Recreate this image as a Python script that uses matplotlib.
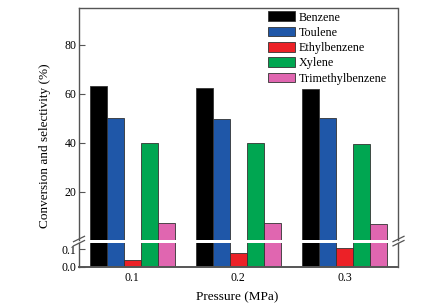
import matplotlib
matplotlib.use("Agg")
import matplotlib.pyplot as plt
from matplotlib.lines import Line2D
import numpy as np

plt.rcParams['font.family'] = ['Liberation Serif', 'DejaVu Serif']

pressures = ['0.1', '0.2', '0.3']
series_names = ['Benzene', 'Toulene', 'Ethylbenzene', 'Xylene', 'Trimethylbenzene']
benzene = [63.1, 62.3, 62.0]
toulene = [50.3, 49.8, 50.2]
ethylbenzene = [0.038, 0.076, 0.104]
xylene = [40.1, 40.0, 39.6]
trimethylbenzene = [7.35, 7.3, 6.9]
series = [benzene, toulene, ethylbenzene, xylene, trimethylbenzene]
colors = ['#000000', '#1f57a8', '#ec2127', '#00a651', '#e066b0']

W, H = 433, 308
fig = plt.figure(figsize=(W / 100, H / 100), dpi=100)

def fx(px):
    return px / W

def fy(py):
    return 1 - py / H

left, right = 79, 397.5
top_t, top_b = 7.5, 239.5
low_t, low_b = 242.7, 266.7

ax_top = fig.add_axes([fx(left), fy(top_b), fx(right) - fx(left), fy(top_t) - fy(top_b)])
ax_low = fig.add_axes([fx(left), fy(low_b), fx(right) - fx(left), fy(low_t) - fy(low_b)])

x = np.arange(len(pressures))
w = 0.16
spine_col = '#555555'
for ax in (ax_top, ax_low):
    for i, (name, vals) in enumerate(zip(series_names, series)):
        ax.bar(x + (i - 2) * w, vals, width=w, color=colors[i], edgecolor='#333333',
               linewidth=0.6, label=name)
    ax.set_xlim(-0.5, 2.5)
    for s in ax.spines.values():
        s.set_color(spine_col)
        s.set_linewidth(1.0)
    ax.tick_params(axis='y', direction='in', length=4, width=0.8, color=spine_col,
                   labelsize=8.5, pad=2)
    ax.tick_params(axis='x', length=0, labelsize=8.5, pad=4)

ax_top.set_ylim(0.6, 95.3)
ax_top.set_yticks([20, 40, 60, 80])
ax_top.set_xticks([])
ax_top.spines['bottom'].set_visible(False)

ax_low.set_ylim(0, 0.136)
ax_low.set_yticks([0.0, 0.1])
ax_low.set_yticklabels(['0.0', '0.1'])
ax_low.set_xticks(x)
ax_low.set_xticklabels(pressures)
ax_low.spines['top'].set_visible(False)
ax_low.spines['bottom'].set_linewidth(1.4)

ax_top.legend(loc='upper right', frameon=False, fontsize=8.7, handlelength=2.25,
              handleheight=0.85, handletextpad=0.3, labelspacing=0.27,
              borderaxespad=0.0, borderpad=0.0,
              bbox_to_anchor=(1 - 11 / (right - left), 1 - 4 / (top_b - top_t)))

# break marks
for xc in (left, right + 1):
    for yc in (239.0, 243.2):
        fig.add_artist(Line2D([fx(xc - 5.5), fx(xc + 5.5)], [fy(yc + 2.7), fy(yc - 2.7)],
                              transform=fig.transFigure, color=spine_col, lw=0.9))

fig.text(fx(45), fy(146), 'Conversion and selectivity (%)', rotation=90,
         ha='center', va='center', fontsize=9.5)
fig.text(fx(237.5), fy(297), 'Pressure (MPa)', ha='center', va='center', fontsize=9.5)

fig.savefig('out.png', dpi=100)
